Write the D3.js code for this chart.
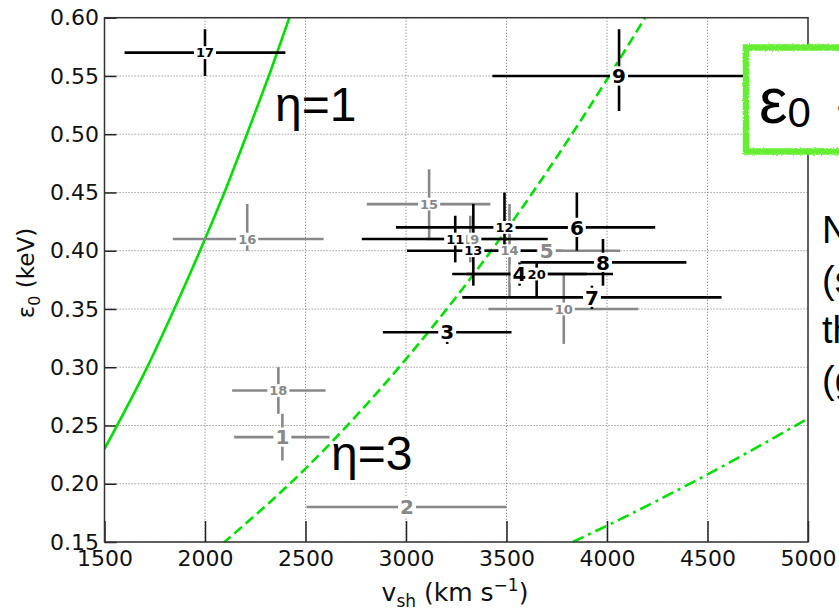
<!DOCTYPE html>
<html>
<head>
<meta charset="utf-8">
<script src="https://cdn.jsdelivr.net/npm/d3@7"></script>
<style>
  body { margin: 0; background: #fff; overflow: hidden; }
  svg { display: block; }
</style>
</head>
<body>
<div id="chart"></div>
<script>
// values
var ids    = ["1","2","3","4","5","6","7","8","9","10","11","12","13","14","15","16","17","18","19","20"];
var vsh    = [2385, 3005, 3205, 3565, 3700, 3850, 3925, 3980, 4060, 3785, 3245, 3490, 3335, 3515, 3115, 2210, 2000, 2365, 3320, 3650];
var vshLo  = [2145, 2505, 2885, 3230, 3340, 3450, 3280, 3570, 3430, 3410, 2780, 2950, 3005, 3250, 2805, 1840, 1600, 2135, 3100, 3300];
var vshHi  = [2620, 3500, 3525, 3900, 4065, 4240, 4570, 4395, 5000, 4155, 3705, 3900, 3650, 3780, 3420, 2590, 2400, 2600, 3550, 4030];
var eps    = [0.24, 0.18, 0.33, 0.38, 0.40, 0.42, 0.36, 0.39, 0.55, 0.35, 0.41, 0.42, 0.40, 0.40, 0.44, 0.41, 0.57, 0.28, 0.41, 0.38];
var epsLo  = [0.22, 0.18, 0.32, 0.37, 0.395, 0.40, 0.35, 0.37, 0.52, 0.32, 0.39, 0.40, 0.37, 0.36, 0.41, 0.40, 0.55, 0.26, 0.39, 0.36];
var epsHi  = [0.26, 0.18, 0.335, 0.39, 0.405, 0.45, 0.37, 0.41, 0.59, 0.38, 0.43, 0.45, 0.44, 0.44, 0.47, 0.44, 0.59, 0.30, 0.43, 0.39];
var isGray = [1,1,0,0,1,0,0,0,0,1,0,0,0,1,1,1,0,1,1,0];
var isBig  = [1,1,1,1,1,1,1,1,1,0,0,0,0,0,0,0,0,0,0,0];

// eta curves, points
var eta1 = [[1500,0.230],[1715,0.301],[1855,0.353],[2000,0.410],[2115,0.458],[2215,0.503],[2330,0.556],[2430,0.605]];
var eta3 = [[2090,0.149],[2500,0.213],[3000,0.307],[3500,0.418],[4000,0.547],[4200,0.603]];
var eta10 = [[3830,0.150],[4000,0.164],[4500,0.208],[5000,0.256]];

var xTicks = [1500,2000,2500,3000,3500,4000,4500,5000];
var yTicks = [0.15,0.20,0.25,0.30,0.35,0.40,0.45,0.50,0.55,0.60];

var W = 839, H = 608;
var L = 104.5, R = 808, T = 17.7, B = 542;

var svg = d3.select("#chart").append("svg").attr("width", W).attr("height", H);

var x = d3.scaleLinear().domain([1500, 5000]).range([L, R]);
var y = d3.scaleLinear().domain([0.15, 0.60]).range([B, T]);

svg.append("defs").append("clipPath").attr("id", "plotclip")
  .append("rect").attr("x", L).attr("y", T).attr("width", R - L).attr("height", B - T);

// grid
var grid = svg.append("g");
grid.selectAll(".gx").data(xTicks).enter().append("line")
  .attr("x1", function(d){ return x(d); }).attr("x2", function(d){ return x(d); })
  .attr("y1", T).attr("y2", B)
  .style("stroke", "#8a8a8a").style("stroke-width", 1).style("stroke-dasharray", "1.2,1.8");
grid.selectAll(".gy").data(yTicks).enter().append("line")
  .attr("y1", function(d){ return y(d); }).attr("y2", function(d){ return y(d); })
  .attr("x1", L).attr("x2", R)
  .style("stroke", "#8a8a8a").style("stroke-width", 1).style("stroke-dasharray", "1.2,1.8");

// axes
var ax = svg.append("g").attr("transform", "translate(0," + B + ")")
  .call(d3.axisBottom(x).tickValues(xTicks).tickSize(-21).tickPadding(8.5).tickFormat(d3.format("d")));
var ay = svg.append("g").attr("transform", "translate(" + L + ",0)")
  .call(d3.axisLeft(y).tickValues(yTicks).tickSize(-12).tickPadding(5.5).tickFormat(d3.format(".2f")));
[ax, ay].forEach(function(a){
  a.select(".domain").remove();
  a.selectAll(".tick line").style("stroke", "#222").style("stroke-width", 1.5);
  a.selectAll("text").style("font-family", "'DejaVu Sans', sans-serif").style("font-size", "22px").style("fill", "#111");
});

// eta curves
var line = d3.line().x(function(d){ return x(d[0]); }).y(function(d){ return y(d[1]); }).curve(d3.curveMonotoneX);
var curves = svg.append("g").attr("clip-path", "url(#plotclip)");
curves.append("path").datum(eta1).attr("d", line)
  .style("fill", "none").style("stroke", "#00e000").style("stroke-width", 2.6);
curves.append("path").datum(eta3).attr("d", line)
  .style("fill", "none").style("stroke", "#00e000").style("stroke-width", 2.6).style("stroke-dasharray", "10,5");
curves.append("path").datum(eta10).attr("d", line)
  .style("fill", "none").style("stroke", "#00e000").style("stroke-width", 2.6).style("stroke-dasharray", "12,5,3,5");

// error bars : gray ones first, black on top
var idx = d3.range(ids.length).sort(function(a, b){ return isGray[b] - isGray[a]; });
var bars = svg.append("g").attr("clip-path", "url(#plotclip)");
idx.forEach(function(i){
  var c = isGray[i] ? "#888888" : "#000000";
  bars.append("line")
    .attr("x1", x(vshLo[i])).attr("x2", x(vshHi[i]))
    .attr("y1", y(eps[i])).attr("y2", y(eps[i]))
    .style("stroke", c).style("stroke-width", 2.6);
  if (epsHi[i] > epsLo[i]) {
    bars.append("line")
      .attr("x1", x(vsh[i])).attr("x2", x(vsh[i]))
      .attr("y1", y(epsLo[i])).attr("y2", y(epsHi[i]))
      .style("stroke", c).style("stroke-width", 2.6);
  }
});

// point labels with white backing
var labs = svg.append("g");
idx.forEach(function(i){
  var g = labs.append("g");
  var t = g.append("text")
    .attr("x", x(vsh[i])).attr("y", y(eps[i]))
    .attr("text-anchor", "middle").attr("dy", "0.36em")
    .style("font-family", "'DejaVu Sans', sans-serif")
    .style("font-weight", "bold")
    .style("font-size", isBig[i] ? "20px" : "13px")
    .style("fill", isGray[i] ? "#888888" : "#000000")
    .text(ids[i]);
  var bb = t.node().getBBox();
  g.insert("rect", "text")
    .attr("x", bb.x - 2).attr("y", y(eps[i]) - bb.height * 0.36 - 1)
    .attr("width", bb.width + 4).attr("height", bb.height * 0.72 + 2)
    .style("fill", "#fff");
});

// frame
svg.append("rect").attr("x", L).attr("y", T).attr("width", R - L).attr("height", B - T)
  .style("fill", "none").style("stroke", "#333").style("stroke-width", 1.5);

// eta labels
svg.append("text").attr("x", 275).attr("y", 121)
  .style("font-family", "'Liberation Sans', Arial, sans-serif").style("font-size", "48px").style("fill", "#000")
  .text("η=1");
svg.append("text").attr("x", 331).attr("y", 470)
  .style("font-family", "'Liberation Sans', Arial, sans-serif").style("font-size", "48px").style("fill", "#000")
  .text("η=3");

// axis titles
var xl = svg.append("text").attr("x", 455).attr("y", 601).attr("text-anchor", "middle")
  .style("font-family", "'DejaVu Sans', sans-serif").style("font-size", "25px").style("fill", "#111");
xl.append("tspan").text("v");
xl.append("tspan").attr("dy", 6).style("font-size", "17px").text("sh");
xl.append("tspan").attr("dy", -6).text(" (km s");
xl.append("tspan").attr("dy", -10).style("font-size", "17px").text("−1");
xl.append("tspan").attr("dy", 10).text(")");

var yl = svg.append("text").attr("transform", "translate(34,273) rotate(-90)").attr("text-anchor", "middle")
  .style("font-family", "'DejaVu Sans', sans-serif").style("font-size", "23px").style("fill", "#111");
yl.append("tspan").text("ε");
yl.append("tspan").attr("dy", 6).style("font-size", "16px").text("0");
yl.append("tspan").attr("dy", -6).text(" (keV)");

// annotation box on the right (cut by the edge)
var f = svg.select("defs").append("filter").attr("id", "rough");
f.append("feTurbulence").attr("type", "fractalNoise").attr("baseFrequency", 0.6).attr("numOctaves", 2).attr("result", "n");
f.append("feDisplacementMap").attr("in", "SourceGraphic").attr("in2", "n").attr("scale", 3);
svg.append("rect").attr("x", 746).attr("y", 47.5).attr("width", 200).attr("height", 104)
  .style("fill", "#fff").style("stroke", "#66ee33").style("stroke-width", 6.5).attr("filter", "url(#rough)");
var eb = svg.append("text").attr("x", 759).attr("y", 123)
  .style("font-family", "'Liberation Sans', Arial, sans-serif").style("fill", "#000");
eb.append("tspan").style("font-size", "64px").text("ε");
eb.append("tspan").attr("dy", 4).style("font-size", "42px").text("0");
svg.append("text").attr("x", 834).attr("y", 120)
  .style("font-family", "'Liberation Sans', Arial, sans-serif").style("font-size", "42px").style("fill", "#000")
  .text("∼");

var side = ["N", "(s", "th", "(g"];
svg.selectAll(".side").data(side).enter().append("text")
  .attr("x", 822).attr("y", function(d, i){ return 243 + i * 50; })
  .style("font-family", "'Liberation Sans', Arial, sans-serif").style("font-size", "38px").style("fill", "#000")
  .text(function(d){ return d; });
</script>
</body>
</html>
